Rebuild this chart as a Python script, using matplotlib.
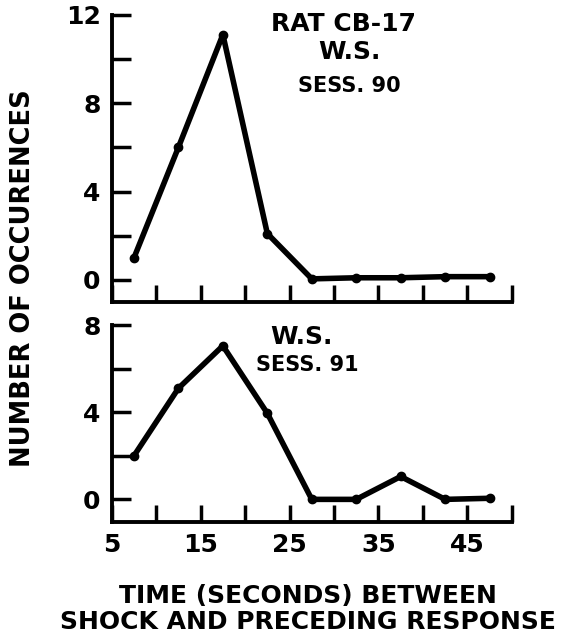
import matplotlib
matplotlib.use("Agg")
import matplotlib.pyplot as plt
from matplotlib.ticker import MultipleLocator

# Data
x_time = [7.5, 12.5, 17.5, 22.5, 27.5, 32.5, 37.5, 42.5, 47.5]
sess90 = [1.0, 6.0, 11.1, 2.1, 0.05, 0.1, 0.1, 0.15, 0.15]
sess91 = [2.0, 5.1, 7.05, 3.95, 0.0, 0.0, 1.05, 0.0, 0.05]
x_ticks = [5, 10, 15, 20, 25, 30, 35, 40, 45, 50]
x_ticklabels = ["5", "", "15", "", "25", "", "35", "", "45", ""]
y_ticks_top = [0, 4, 8, 12]
y_ticks_bottom = [0, 4, 8]

plt.rcParams['font.family'] = ['DejaVu Sans']

fig = plt.figure(figsize=(5.7, 6.4), dpi=100)
ax1 = fig.add_axes([0.196, 0.528, 0.702, 0.449])
ax2 = fig.add_axes([0.196, 0.184, 0.702, 0.308])

def style(ax):
    for s in ['top', 'right']:
        ax.spines[s].set_visible(False)
    for s in ['left', 'bottom']:
        ax.spines[s].set_linewidth(2.8)
    ax.set_xlim(5, 50)
    ax.set_xticks(x_ticks)
    ax.tick_params(axis='x', direction='in', length=12, width=2.5, pad=8)
    ax.tick_params(axis='y', direction='in', length=14, width=2.5, pad=8)
    ax.yaxis.set_minor_locator(MultipleLocator(2))
    ax.tick_params(axis='y', which='minor', direction='in', length=14, width=2.5)

ax1.plot(x_time, sess90, color='black', lw=4, marker='o', ms=6, solid_joinstyle='round')
ax2.plot(x_time, sess91, color='black', lw=4, marker='o', ms=6, solid_joinstyle='round')

style(ax1)
style(ax2)
ax1.set_ylim(-1.0, 12)
ax2.set_ylim(-1.05, 8)
ax1.set_yticks(y_ticks_top)
ax2.set_yticks(y_ticks_bottom)
ax1.set_yticklabels([str(v) for v in y_ticks_top], fontsize=18, fontweight='bold')
ax2.set_yticklabels([str(v) for v in y_ticks_bottom], fontsize=18, fontweight='bold')
ax1.set_xticklabels([])
ax2.set_xticklabels(x_ticklabels, fontsize=18, fontweight='bold')

ax1.text(0.578, 0.969, "RAT CB-17", transform=ax1.transAxes, ha='center', va='center',
         fontsize=18, fontweight='bold')
ax1.text(0.593, 0.871, "W.S.", transform=ax1.transAxes, ha='center', va='center',
         fontsize=18, fontweight='bold')
ax1.text(0.595, 0.753, "SESS. 90", transform=ax1.transAxes, ha='center', va='center',
         fontsize=15, fontweight='bold')
ax2.text(0.475, 0.939, "W.S.", transform=ax2.transAxes, ha='center', va='center',
         fontsize=18, fontweight='bold')
ax2.text(0.488, 0.797, "SESS. 91", transform=ax2.transAxes, ha='center', va='center',
         fontsize=15, fontweight='bold')

fig.text(0.040, 0.566, "NUMBER OF OCCURENCES", rotation=90, ha='center', va='center',
         fontsize=18.5, fontweight='bold')
fig.text(0.54, 0.049, "TIME (SECONDS) BETWEEN\nSHOCK AND PRECEDING RESPONSE",
         ha='center', va='center', fontsize=18, fontweight='bold', linespacing=1.1)

fig.savefig("out.png", dpi=100)
